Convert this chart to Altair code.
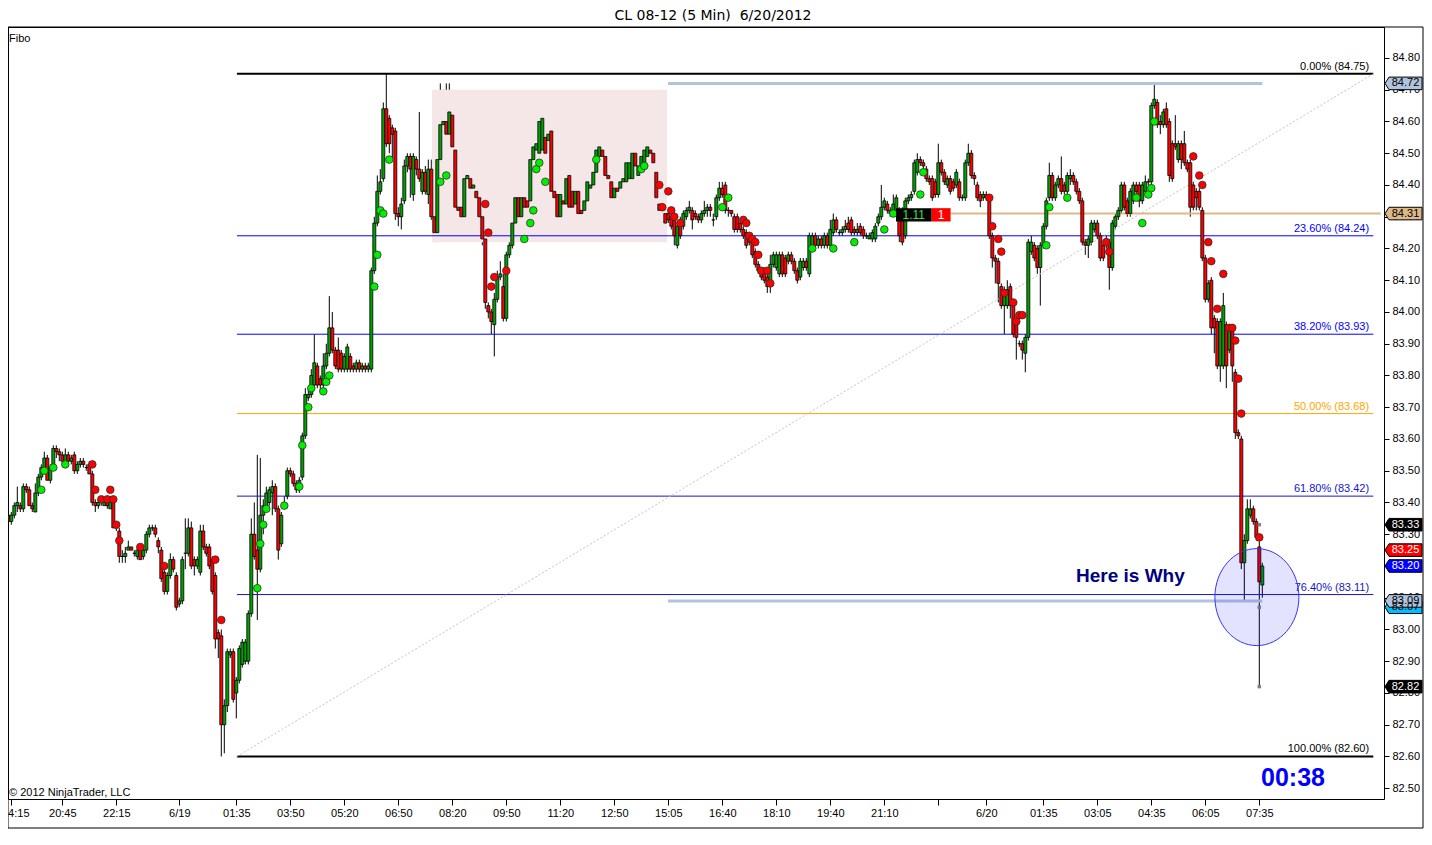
import altair as alt
import pandas as pd

# ---------------- candle data (5-min bars) ----------------
A_OPEN = [83.36, 83.34, 83.36, 83.39, 83.39, 83.38, 83.45, 83.44, 83.39, 83.37,
          83.43, 83.48, 83.51, 83.54, 83.47, 83.51, 83.57, 83.56, 83.55, 83.52,
          83.55, 83.53, 83.55, 83.50, 83.52, 83.53, 83.51, 83.52, 83.49, 83.40,
          83.39, 83.40, 83.39, 83.40, 83.38, 83.40, 83.33, 83.31, 83.23, 83.23,
          83.25, 83.26, 83.24, 83.23, 83.26, 83.23, 83.25, 83.30, 83.32, 83.32,
          83.28, 83.25, 83.18, 83.12, 83.17, 83.22, 83.17, 83.08, 83.09, 83.24,
          83.24, 83.32, 83.22, 83.20, 83.18, 83.31, 83.26, 83.26, 83.22, 83.17,
          82.99, 82.98, 82.70, 82.76, 82.92, 82.93, 82.80, 82.84, 82.89, 82.90,
          82.90, 83.05, 83.30, 83.25, 83.19, 83.36, 83.39, 83.40, 83.43, 83.45,
          83.38, 83.27, 83.40, 83.42, 83.50, 83.49, 83.46, 83.44, 83.48, 83.61,
          83.73, 83.74, 83.77, 83.83, 83.79, 83.77, 83.83]
A_HIGH = [83.38, 83.37, 83.40, 83.45, 83.40, 83.46, 83.46, 83.45, 83.40, 83.46,
          83.49, 83.52, 83.56, 83.55, 83.52, 83.58, 83.58, 83.57, 83.56, 83.57,
          83.56, 83.55, 83.56, 83.53, 83.54, 83.54, 83.52, 83.53, 83.50, 83.41,
          83.41, 83.42, 83.41, 83.41, 83.42, 83.41, 83.34, 83.32, 83.25, 83.26,
          83.28, 83.26, 83.25, 83.26, 83.27, 83.26, 83.31, 83.33, 83.33, 83.33,
          83.29, 83.26, 83.19, 83.18, 83.24, 83.23, 83.18, 83.10, 83.23, 83.35,
          83.35, 83.34, 83.23, 83.23, 83.33, 83.33, 83.27, 83.27, 83.23, 83.18,
          83.00, 83.00, 82.78, 82.94, 82.94, 82.94, 82.85, 82.95, 82.97, 82.97,
          83.06, 83.35, 83.40, 83.55, 83.54, 83.41, 83.45, 83.45, 83.47, 83.46,
          83.39, 83.37, 83.42, 83.51, 83.51, 83.50, 83.47, 83.48, 83.62, 83.76,
          83.76, 83.82, 83.93, 83.84, 83.80, 83.87, 83.90]
A_LOW = [83.33, 83.33, 83.35, 83.37, 83.37, 83.37, 83.43, 83.39, 83.37, 83.37,
         83.42, 83.47, 83.50, 83.47, 83.46, 83.50, 83.54, 83.53, 83.52, 83.51,
         83.52, 83.52, 83.49, 83.49, 83.51, 83.51, 83.50, 83.49, 83.39, 83.37,
         83.38, 83.39, 83.39, 83.38, 83.38, 83.32, 83.31, 83.21, 83.21, 83.21,
         83.25, 83.25, 83.23, 83.22, 83.22, 83.22, 83.24, 83.29, 83.31, 83.29,
         83.24, 83.15, 83.11, 83.11, 83.16, 83.18, 83.06, 83.07, 83.08, 83.19,
         83.23, 83.19, 83.17, 83.19, 83.17, 83.25, 83.23, 83.19, 83.11, 82.94,
         82.91, 82.60, 82.61, 82.74, 82.91, 82.77, 82.72, 82.83, 82.88, 82.89,
         82.89, 83.04, 83.22, 83.03, 83.18, 83.30, 83.38, 83.39, 83.36, 83.37,
         83.22, 83.26, 83.39, 83.41, 83.48, 83.45, 83.43, 83.43, 83.47, 83.60,
         83.72, 83.73, 83.76, 83.76, 83.75, 83.76, 83.82]
A_CLOSE = [83.34, 83.36, 83.39, 83.40, 83.38, 83.45, 83.44, 83.39, 83.38, 83.43,
           83.48, 83.51, 83.54, 83.47, 83.51, 83.57, 83.56, 83.55, 83.53, 83.55,
           83.53, 83.54, 83.50, 83.52, 83.53, 83.52, 83.51, 83.49, 83.40, 83.39,
           83.40, 83.40, 83.40, 83.39, 83.40, 83.32, 83.32, 83.23, 83.23, 83.24,
           83.26, 83.25, 83.24, 83.25, 83.22, 83.25, 83.30, 83.32, 83.32, 83.30,
           83.26, 83.16, 83.12, 83.17, 83.22, 83.19, 83.07, 83.09, 83.22, 83.24,
           83.32, 83.20, 83.20, 83.22, 83.31, 83.26, 83.24, 83.20, 83.12, 82.97,
           82.97, 82.70, 82.76, 82.93, 82.93, 82.78, 82.84, 82.94, 82.96, 82.96,
           83.05, 83.30, 83.23, 83.19, 83.36, 83.39, 83.43, 83.44, 83.45, 83.38,
           83.25, 83.36, 83.40, 83.50, 83.49, 83.46, 83.44, 83.47, 83.61, 83.74,
           83.74, 83.80, 83.84, 83.77, 83.77, 83.83, 83.87]

B_OPEN = [83.87, 83.95, 83.88, 83.88, 83.87, 83.82, 83.82, 83.86, 83.83, 83.82,
          83.84, 83.82, 83.83, 83.82, 83.82, 84.13, 84.28, 84.38, 84.42, 84.64,
          84.61, 84.58, 84.57, 84.31, 84.30, 84.35, 84.46, 84.49, 84.37, 84.48,
          84.45, 84.38, 84.44, 84.37, 84.45, 84.30, 84.25, 84.48, 84.59, 84.60,
          84.56, 84.62, 84.51, 84.33, 84.33, 84.30, 84.42, 84.42, 84.39, 84.38,
          84.36, 84.30, 84.23, 84.02, 84.00, 83.96, 84.04, 84.11, 84.08, 83.98,
          84.18, 84.21, 84.28, 84.36, 84.30, 84.36, 84.35, 84.35, 84.48, 84.51,
          84.50, 84.51, 84.55, 84.54, 84.57, 84.38, 84.37, 84.30, 84.35, 84.34,
          84.43, 84.38, 84.34, 84.38, 84.32, 84.32, 84.35, 84.39, 84.40, 84.44,
          84.49, 84.51, 84.49, 84.43, 84.41, 84.36, 84.39, 84.39, 84.41, 84.41,
          84.42, 84.42, 84.50, 84.43, 84.46, 84.46, 84.49, 84.51, 84.50, 84.44]
B_HIGH = [84.05, 84.00, 83.89, 83.92, 83.88, 83.87, 83.90, 83.87, 83.84, 83.85,
          83.85, 83.84, 83.84, 83.84, 84.14, 84.30, 84.43, 84.45, 84.66, 84.75,
          84.62, 84.59, 84.58, 84.33, 84.36, 84.48, 84.50, 84.50, 84.50, 84.49,
          84.63, 84.45, 84.46, 84.48, 84.48, 84.31, 84.49, 84.72, 84.70, 84.72,
          84.72, 84.63, 84.52, 84.34, 84.34, 84.43, 84.46, 84.43, 84.47, 84.39,
          84.37, 84.31, 84.24, 84.03, 84.01, 84.06, 84.13, 84.16, 84.12, 84.19,
          84.22, 84.30, 84.40, 84.42, 84.40, 84.40, 84.36, 84.50, 84.55, 84.56,
          84.65, 84.63, 84.60, 84.61, 84.58, 84.40, 84.42, 84.42, 84.37, 84.44,
          84.45, 84.39, 84.40, 84.39, 84.33, 84.36, 84.42, 84.42, 84.46, 84.52,
          84.59, 84.53, 84.50, 84.44, 84.42, 84.40, 84.40, 84.42, 84.43, 84.48,
          84.48, 84.51, 84.51, 84.47, 84.50, 84.53, 84.54, 84.52, 84.51, 84.45]
B_LOW = [83.86, 83.87, 83.82, 83.81, 83.81, 83.81, 83.81, 83.81, 83.81, 83.81,
         83.81, 83.81, 83.81, 83.81, 83.81, 84.12, 84.27, 84.37, 84.41, 84.52,
         84.50, 84.48, 84.29, 84.27, 84.26, 84.34, 84.44, 84.36, 84.35, 84.43,
         84.41, 84.37, 84.37, 84.34, 84.29, 84.23, 84.22, 84.47, 84.58, 84.55,
         84.55, 84.50, 84.31, 84.27, 84.25, 84.28, 84.39, 84.37, 84.33, 84.33,
         84.24, 84.21, 84.01, 83.98, 83.93, 83.86, 84.03, 84.10, 83.97, 83.97,
         84.17, 84.20, 84.27, 84.29, 84.29, 84.31, 84.28, 84.34, 84.47, 84.50,
         84.49, 84.50, 84.49, 84.53, 84.36, 84.35, 84.28, 84.28, 84.33, 84.33,
         84.24, 84.31, 84.33, 84.30, 84.30, 84.31, 84.34, 84.38, 84.39, 84.43,
         84.48, 84.48, 84.42, 84.41, 84.35, 84.35, 84.37, 84.38, 84.40, 84.40,
         84.41, 84.41, 84.45, 84.42, 84.45, 84.45, 84.48, 84.49, 84.43, 84.33]
B_CLOSE = [83.95, 83.88, 83.83, 83.82, 83.82, 83.86, 83.89, 83.82, 83.82, 83.84,
           83.82, 83.83, 83.82, 83.83, 84.13, 84.28, 84.38, 84.41, 84.64, 84.53,
           84.53, 84.56, 84.31, 84.30, 84.34, 84.46, 84.49, 84.45, 84.49, 84.45,
           84.42, 84.44, 84.38, 84.45, 84.30, 84.25, 84.48, 84.59, 84.60, 84.56,
           84.63, 84.52, 84.33, 84.32, 84.30, 84.42, 84.43, 84.39, 84.40, 84.36,
           84.30, 84.23, 84.03, 84.00, 83.97, 84.04, 84.11, 84.12, 83.98, 84.18,
           84.21, 84.28, 84.36, 84.30, 84.36, 84.33, 84.33, 84.48, 84.52, 84.53,
           84.60, 84.61, 84.50, 84.56, 84.38, 84.36, 84.30, 84.37, 84.34, 84.42,
           84.33, 84.33, 84.38, 84.31, 84.31, 84.35, 84.41, 84.40, 84.44, 84.51,
           84.52, 84.49, 84.43, 84.42, 84.36, 84.39, 84.38, 84.41, 84.42, 84.47,
           84.47, 84.50, 84.46, 84.46, 84.49, 84.51, 84.52, 84.50, 84.47, 84.36]

C_OPEN = [84.34, 84.34, 84.31, 84.31, 84.30, 84.29, 84.21, 84.29, 84.27, 84.30,
          84.32, 84.32, 84.31, 84.30, 84.29, 84.31, 84.32, 84.33, 84.29, 84.30,
          84.36, 84.39, 84.40, 84.32, 84.32, 84.30, 84.30, 84.28, 84.26, 84.25,
          84.24, 84.23, 84.19, 84.15, 84.13, 84.13, 84.11, 84.08, 84.15, 84.14,
          84.12, 84.18, 84.17, 84.16, 84.18, 84.16, 84.13, 84.11, 84.14, 84.16,
          84.12, 84.21, 84.24, 84.21, 84.23, 84.21, 84.24, 84.21, 84.25, 84.29,
          84.25, 84.25, 84.26, 84.28, 84.29, 84.26, 84.25, 84.27, 84.26, 84.24,
          84.23, 84.23, 84.23, 84.28, 84.30, 84.33, 84.34, 84.31, 84.32, 84.31,
          84.31, 84.31, 84.24, 84.35, 84.36, 84.38, 84.44, 84.48, 84.47, 84.45,
          84.42, 84.42, 84.41, 84.37, 84.47, 84.44, 84.40, 84.42, 84.41, 84.40,
          84.41, 84.36, 84.36, 84.47, 84.50, 84.43, 84.40, 84.37, 84.36, 84.37]
C_HIGH = [84.35, 84.35, 84.32, 84.32, 84.31, 84.30, 84.28, 84.30, 84.32, 84.33,
          84.35, 84.33, 84.32, 84.31, 84.32, 84.35, 84.34, 84.34, 84.31, 84.37,
          84.41, 84.41, 84.41, 84.33, 84.32, 84.31, 84.31, 84.29, 84.27, 84.26,
          84.25, 84.24, 84.20, 84.16, 84.14, 84.14, 84.12, 84.18, 84.19, 84.19,
          84.19, 84.19, 84.18, 84.19, 84.19, 84.17, 84.14, 84.17, 84.17, 84.17,
          84.25, 84.25, 84.25, 84.24, 84.24, 84.25, 84.25, 84.29, 84.31, 84.30,
          84.26, 84.27, 84.29, 84.30, 84.30, 84.27, 84.28, 84.28, 84.27, 84.25,
          84.25, 84.26, 84.28, 84.31, 84.40, 84.36, 84.35, 84.33, 84.37, 84.37,
          84.33, 84.33, 84.36, 84.37, 84.38, 84.48, 84.50, 84.49, 84.48, 84.46,
          84.43, 84.43, 84.42, 84.53, 84.48, 84.45, 84.43, 84.43, 84.42, 84.45,
          84.42, 84.37, 84.48, 84.53, 84.51, 84.44, 84.41, 84.38, 84.38, 84.38]
C_LOW = [84.31, 84.26, 84.27, 84.28, 84.26, 84.21, 84.20, 84.23, 84.26, 84.29,
         84.31, 84.26, 84.29, 84.28, 84.28, 84.30, 84.30, 84.30, 84.27, 84.29,
         84.35, 84.36, 84.31, 84.30, 84.30, 84.25, 84.25, 84.25, 84.23, 84.20,
         84.21, 84.17, 84.14, 84.12, 84.10, 84.09, 84.06, 84.06, 84.14, 84.13,
         84.11, 84.11, 84.11, 84.15, 84.15, 84.12, 84.09, 84.10, 84.13, 84.13,
         84.11, 84.20, 84.20, 84.20, 84.20, 84.20, 84.20, 84.20, 84.24, 84.25,
         84.24, 84.24, 84.25, 84.25, 84.24, 84.24, 84.24, 84.24, 84.23, 84.23,
         84.23, 84.22, 84.22, 84.27, 84.29, 84.32, 84.31, 84.30, 84.31, 84.30,
         84.22, 84.21, 84.23, 84.34, 84.35, 84.37, 84.43, 84.46, 84.45, 84.41,
         84.40, 84.35, 84.36, 84.36, 84.43, 84.40, 84.39, 84.37, 84.38, 84.39,
         84.35, 84.35, 84.35, 84.46, 84.42, 84.40, 84.35, 84.33, 84.35, 84.35]
C_CLOSE = [84.32, 84.32, 84.28, 84.29, 84.27, 84.24, 84.27, 84.24, 84.31, 84.32,
           84.33, 84.29, 84.30, 84.29, 84.31, 84.32, 84.33, 84.32, 84.29, 84.36,
           84.39, 84.37, 84.32, 84.32, 84.31, 84.26, 84.26, 84.26, 84.24, 84.21,
           84.22, 84.18, 84.15, 84.13, 84.11, 84.10, 84.08, 84.15, 84.18, 84.18,
           84.18, 84.12, 84.12, 84.18, 84.16, 84.13, 84.10, 84.16, 84.16, 84.14,
           84.24, 84.24, 84.21, 84.23, 84.21, 84.24, 84.21, 84.26, 84.29, 84.26,
           84.25, 84.26, 84.27, 84.26, 84.25, 84.25, 84.26, 84.25, 84.24, 84.24,
           84.24, 84.25, 84.27, 84.30, 84.33, 84.35, 84.32, 84.32, 84.34, 84.36,
           84.24, 84.22, 84.35, 84.36, 84.37, 84.47, 84.48, 84.47, 84.46, 84.42,
           84.41, 84.36, 84.37, 84.47, 84.44, 84.41, 84.42, 84.38, 84.39, 84.44,
           84.36, 84.36, 84.47, 84.50, 84.43, 84.42, 84.36, 84.35, 84.37, 84.36]

D_OPEN = [84.36, 84.24, 84.17, 84.16, 84.08, 84.02, 84.02, 84.08, 84.02, 83.98,
          83.90, 83.90, 83.87, 83.92, 84.19, 84.21, 84.20, 84.14, 84.21, 84.27,
          84.36, 84.43, 84.36, 84.40, 84.42, 84.40, 84.38, 84.42, 84.43, 84.41,
          84.38, 84.35, 84.22, 84.21, 84.22, 84.26, 84.28, 84.24, 84.21, 84.21,
          84.22, 84.14, 84.27, 84.30, 84.32, 84.40, 84.35, 84.31, 84.35, 84.40,
          84.40, 84.35, 84.38, 84.41, 84.41, 84.65, 84.66, 84.60, 84.59, 84.64,
          84.60, 84.53, 84.53, 84.48, 84.53, 84.53, 84.47, 84.47, 84.40, 84.38,
          84.38, 84.32, 84.17, 84.04, 84.10, 83.98, 83.97, 83.83, 83.83, 83.96,
          83.88, 83.95, 83.81, 83.62, 83.60, 83.21, 83.28, 83.36, 83.38, 83.34,
          83.26, 83.14]
D_HIGH = [84.37, 84.25, 84.18, 84.17, 84.09, 84.08, 84.10, 84.09, 84.03, 83.99,
          83.91, 83.91, 83.93, 84.23, 84.24, 84.22, 84.21, 84.22, 84.28, 84.36,
          84.47, 84.44, 84.41, 84.43, 84.49, 84.41, 84.44, 84.45, 84.44, 84.42,
          84.39, 84.36, 84.23, 84.24, 84.29, 84.29, 84.29, 84.25, 84.22, 84.24,
          84.23, 84.29, 84.31, 84.33, 84.41, 84.41, 84.36, 84.39, 84.41, 84.41,
          84.41, 84.41, 84.43, 84.42, 84.66, 84.72, 84.67, 84.62, 84.64, 84.66,
          84.61, 84.54, 84.62, 84.54, 84.54, 84.57, 84.48, 84.48, 84.41, 84.39,
          84.39, 84.33, 84.18, 84.10, 84.11, 83.99, 83.98, 83.98, 84.06, 83.97,
          83.96, 83.96, 83.82, 83.63, 83.61, 83.30, 83.41, 83.41, 83.39, 83.35,
          83.30, 83.21]
D_LOW = [84.23, 84.14, 84.09, 84.03, 84.01, 83.93, 84.01, 83.98, 83.92, 83.85,
         83.89, 83.85, 83.81, 83.91, 84.18, 84.16, 84.12, 84.02, 84.20, 84.26,
         84.35, 84.35, 84.35, 84.39, 84.37, 84.37, 84.37, 84.40, 84.40, 84.37,
         84.34, 84.21, 84.18, 84.17, 84.21, 84.25, 84.23, 84.16, 84.16, 84.20,
         84.07, 84.13, 84.26, 84.29, 84.31, 84.32, 84.30, 84.30, 84.34, 84.37,
         84.33, 84.34, 84.37, 84.40, 84.40, 84.64, 84.58, 84.56, 84.58, 84.58,
         84.41, 84.41, 84.51, 84.47, 84.45, 84.46, 84.44, 84.30, 84.32, 84.32,
         84.32, 84.16, 84.03, 84.03, 83.93, 83.87, 83.82, 83.78, 83.82, 83.76,
         83.87, 83.78, 83.60, 83.60, 83.19, 83.09, 83.27, 83.35, 83.33, 83.28,
         82.82, 83.10]
D_CLOSE = [84.24, 84.17, 84.16, 84.09, 84.02, 84.07, 84.07, 84.02, 83.93, 83.92,
           83.90, 83.88, 83.92, 84.22, 84.22, 84.17, 84.14, 84.21, 84.27, 84.35,
           84.43, 84.36, 84.40, 84.42, 84.38, 84.38, 84.43, 84.43, 84.41, 84.38,
           84.35, 84.22, 84.21, 84.23, 84.28, 84.28, 84.24, 84.17, 84.17, 84.23,
           84.14, 84.28, 84.30, 84.32, 84.40, 84.33, 84.31, 84.38, 84.40, 84.38,
           84.35, 84.40, 84.41, 84.41, 84.65, 84.67, 84.59, 84.59, 84.63, 84.59,
           84.43, 84.42, 84.52, 84.53, 84.48, 84.47, 84.45, 84.33, 84.33, 84.36,
           84.33, 84.17, 84.04, 84.09, 83.95, 83.95, 83.83, 83.97, 84.02, 83.83,
           83.95, 83.83, 83.62, 83.61, 83.21, 83.28, 83.38, 83.38, 83.34, 83.29,
           83.15, 83.20]

# sentiment dots (bar index, price)
UP_I = [11, 12, 15, 19, 83, 84, 85, 86, 92, 97, 98, 100, 101, 105, 106, 107, 122, 123, 124, 125,
        127, 144, 146, 172, 174, 175, 176, 177, 179, 196, 211, 212, 238, 240, 268, 275, 282, 292,
        295, 304, 305, 346, 347, 353, 376, 378, 380, 381, 382]
UP_P = [83.44, 83.50, 83.51, 83.52, 83.13, 83.27, 83.33, 83.38, 83.39, 83.45, 83.58, 83.70, 83.76,
        83.75, 83.78, 83.80, 84.08, 84.18, 84.32, 84.31, 84.48, 84.41, 84.43, 84.23, 84.28, 84.32,
        84.45, 84.47, 84.41, 84.48, 84.45, 84.46, 84.33, 84.36, 84.20, 84.20, 84.22, 84.26, 84.31,
        84.37, 84.44, 84.21, 84.33, 84.36, 84.36, 84.28, 84.37, 84.39, 84.60]
DN_I = [28, 29, 31, 33, 34, 35, 36, 37, 44, 52, 69, 71, 159, 160, 161, 162, 166, 217, 218, 220,
        221, 222, 224, 245, 246, 247, 248, 249, 250, 251, 253, 254, 327, 328, 330, 331, 332, 335,
        336, 337, 338, 366, 367, 395, 397, 398, 400, 401, 403, 405, 407, 408, 409, 410, 411, 417]
DN_P = [83.52, 83.44, 83.41, 83.41, 83.44, 83.41, 83.33, 83.28, 83.26, 83.20, 83.22, 83.03, 84.34,
        84.25, 84.08, 84.11, 84.13, 84.40, 84.33, 84.38, 84.32, 84.30, 84.28, 84.29, 84.28, 84.24,
        84.23, 84.22, 84.18, 84.13, 84.13, 84.09, 84.36, 84.27, 84.23, 84.19, 84.06, 84.03, 83.97,
        83.99, 83.99, 84.22, 84.19, 84.49, 84.43, 84.40, 84.22, 84.16, 84.01, 84.12, 83.95, 83.95,
        83.91, 83.79, 83.68, 83.29]

# axes
TICK_POS = [1, 18, 36, 57, 76, 94, 112, 130, 148, 166, 184, 202, 220, 238, 256, 274, 292, 310,
            326, 345, 363, 381, 399, 417]
TICK_LABELS = ["4:15", "20:45", "22:15", "6/19", "01:35", "03:50", "05:20", "06:50", "08:20",
               "09:50", "11:20", "12:50", "15:05", "16:40", "18:10", "19:40", "21:10", "",
               "6/20", "01:35", "03:05", "04:35", "06:05", "07:35"]
Y_TICKS = [82.50, 82.60, 82.70, 82.80, 82.90, 83.00, 83.10, 83.20, 83.30, 83.40, 83.50, 83.60,
           83.70, 83.80, 83.90, 84.00, 84.10, 84.20, 84.30, 84.40, 84.50, 84.60, 84.70, 84.80]

# Fibonacci retracement
FIB_PCT = ["0.00%", "23.60%", "38.20%", "50.00%", "61.80%", "76.40%", "100.00%"]
FIB_PRICE = [84.75, 84.24, 83.93, 83.68, 83.42, 83.11, 82.60]
FIB_COLOR = ["#000000", "#0000FF", "#0000FF", "#FFA500", "#1515C8", "#1515C8", "#000000"]

# price markers on the right axis
FLAG_PRICE = [84.72, 84.31, 83.33, 83.25, 83.20, 83.07, 83.09, 82.82]
FLAG_FILL = ["#B0C4DE", "#DEB887", "#000000", "#FF0000", "#0000FF", "#00BFFF", "#B0C4DE", "#000000"]
FLAG_INK = ["#000000", "#000000", "#FFFFFF", "#FFFFFF", "#FFFFFF", "#000000", "#000000", "#FFFFFF"]

GREEN = "#00A000"
RED = "#FF0000"

# ---------------- build ----------------
OPEN = A_OPEN + B_OPEN + C_OPEN + D_OPEN
HIGH = A_HIGH + B_HIGH + C_HIGH + D_HIGH
LOW = A_LOW + B_LOW + C_LOW + D_LOW
CLOSE = A_CLOSE + B_CLOSE + C_CLOSE + D_CLOSE
n = min(len(OPEN), len(HIGH), len(LOW), len(CLOSE))
bars = pd.DataFrame({"i": list(range(n)), "open": OPEN[:n], "high": HIGH[:n],
                     "low": LOW[:n], "close": CLOSE[:n]})
bars["high"] = bars[["open", "high", "close"]].max(axis=1)
bars["low"] = bars[["open", "low", "close"]].min(axis=1)

W, H = 1376, 772
PAD = {"left": 0, "top": 19, "right": 40, "bottom": 30}
XS = alt.Scale(domain=[-0.1, -0.1 + W / 3.0], nice=False, zero=False, padding=0)
YS = alt.Scale(domain=[82.4661, 84.8976], nice=False, zero=False, padding=0)

label_expr = ("[" + ",".join("'" + t + "'" for t in TICK_LABELS) + "][indexof(["
              + ",".join(str(v) for v in TICK_POS) + "], datum.value)]")
X_AXIS = alt.Axis(values=TICK_POS, labelExpr=label_expr, tickSize=6, tickColor="black",
                  domain=False, grid=False, labelFont="Liberation Sans", labelFontSize=11,
                  labelColor="black", labelPadding=2, title=None, labelOverlap=False,
                  labelFlush=False,
                  labelOffset={"condition": {"test": "datum.value < 5", "value": 7}, "value": 0})
Y_AXIS = alt.Axis(orient="right", values=Y_TICKS, format=".2f", tickSize=5, tickColor="black",
                  domain=False, grid=False, labelFont="Liberation Sans", labelFontSize=11,
                  labelColor="black", labelPadding=3, title=None, labelOverlap=False,
                  labelFlush=False)


def xq(f):
    return alt.X(f + ":Q", scale=XS, axis=X_AXIS)


def yq(f):
    return alt.Y(f + ":Q", scale=YS, axis=Y_AXIS)


one = pd.DataFrame({"k": [0]})

# candles (first layer, carries the axes)
wick = alt.Chart(bars).mark_rule(color="black", strokeWidth=1).encode(
    x=xq("i"), y=yq("low"), y2="high")
body = alt.Chart(bars).mark_bar(size=3, stroke="black", strokeWidth=0.8, orient="vertical").encode(
    x=xq("i"), y=yq("open"), y2="close",
    color=alt.condition("datum.close >= datum.open", alt.value(GREEN), alt.value(RED)))

# pink zone
zone = pd.DataFrame({"x0": [141.2], "x1": [219.6], "p0": [84.22], "p1": [84.70]})
pink = alt.Chart(zone).mark_rect(color="#F5E6E8").encode(
    x=xq("x0"), x2="x1", y=yq("p0"), y2="p1")

# fib lines
fib = pd.DataFrame({"pct": FIB_PCT, "price": FIB_PRICE})
fib["x0"] = 76.2
fib["x1"] = 455.0
fib["xl"] = 453.6
fib["label"] = fib["pct"] + " (" + fib["price"].map(lambda v: f"{v:.2f}") + ")"
fib_color = alt.Color("pct:N", scale=alt.Scale(domain=FIB_PCT, range=FIB_COLOR), legend=None)
fib_thin = alt.Chart(fib).transform_filter(
    "datum.pct != '0.00%' && datum.pct != '100.00%'").mark_rule(strokeWidth=1).encode(
    x=xq("x0"), x2="x1", y=yq("price"), color=fib_color)
fib_thick = alt.Chart(fib).transform_filter(
    "datum.pct == '0.00%' || datum.pct == '100.00%'").mark_rule(strokeWidth=2).encode(
    x=xq("x0"), x2="x1", y=yq("price"), color=fib_color)
fib_text = alt.Chart(fib).mark_text(align="right", baseline="alphabetic", dy=-4,
                                    font="Liberation Sans", fontSize=11).encode(
    x=xq("xl"), y=yq("price"), text="label:N", color=fib_color)

diag_df = pd.DataFrame({"x0": [76.2], "x1": [455.0], "p0": [82.60], "p1": [84.75]})
diag = alt.Chart(diag_df).mark_rule(color="#C4C4C4", strokeDash=[2, 2], strokeWidth=1).encode(
    x=xq("x0"), x2="x1", y=yq("p0"), y2="p1")

steel_df = pd.DataFrame({"price": [84.72, 83.09], "x0": [219.9, 219.9], "x1": [418.0, 418.0]})
steel = alt.Chart(steel_df).mark_rule(color="#B0C4DE", strokeWidth=3).encode(
    x=xq("x0"), x2="x1", y=yq("price"))

tan_df = pd.DataFrame({"price": [84.31], "x0": [314.1], "x1": [457.5]})
tan = alt.Chart(tan_df).mark_rule(color="#DEB887", strokeWidth=2).encode(
    x=xq("x0"), x2="x1", y=yq("price"))

dots_df = pd.DataFrame({"i": UP_I + DN_I, "price": UP_P + DN_P,
                        "kind": ["up"] * len(UP_I) + ["down"] * len(DN_I)})
dots = alt.Chart(dots_df).mark_point(shape="circle", filled=True, size=58, stroke="#303030",
                                     strokeWidth=0.8, opacity=1).encode(
    x=xq("i"), y=yq("price"),
    color=alt.Color("kind:N", scale=alt.Scale(domain=["up", "down"], range=["#00F000", "#FF0000"]),
                    legend=None))

gray_df = pd.DataFrame({"i": [417, 417, 417], "price": [83.33, 83.07, 82.82]})
gray = alt.Chart(gray_df).mark_square(size=12, color="#808080", opacity=1).encode(
    x=xq("i"), y=yq("price"))

# ellipse
ELLIPSE = ("M0.866,0C0.866,0.5523,0.4783,1,0,1C-0.4783,1,-0.866,0.5523,-0.866,0"
           "C-0.866,-0.5523,-0.4783,-1,0,-1C0.4783,-1,0.866,-0.5523,0.866,0Z")
ell_df = pd.DataFrame({"i": [416.2], "price": [83.102]})
ellipse = alt.Chart(ell_df).mark_point(shape=ELLIPSE, size=9409, filled=True, fill="#0000FF",
                                       fillOpacity=0.11, stroke="#3636F0", strokeWidth=1,
                                       strokeOpacity=1, opacity=1).encode(
    x=xq("i"), y=yq("price"))

why_df = pd.DataFrame({"i": [355.9], "price": [83.168], "t": ["Here is Why"]})
why = alt.Chart(why_df).mark_text(align="left", baseline="middle", font="Liberation Sans",
                                  fontSize=19, fontWeight="bold", color="#000080").encode(
    x=xq("i"), y=yq("price"), text="t:N")

timer = alt.Chart(pd.DataFrame({"t": ["00:38"]})).mark_text(
    align="center", baseline="middle", font="Liberation Sans", fontSize=25, fontWeight="bold",
    color="#0000FF").encode(x=alt.value(1285), y=alt.value(751), text="t:N")

fibo = alt.Chart(pd.DataFrame({"t": ["Fibo"]})).mark_text(
    align="left", baseline="middle", font="Liberation Sans", fontSize=11, color="black").encode(
    x=alt.value(1), y=alt.value(12), text="t:N")

copy = alt.Chart(pd.DataFrame({"t": ["\u00a9 2012 NinjaTrader, LLC"]})).mark_text(
    align="left", baseline="middle", font="Liberation Sans", fontSize=11, color="black").encode(
    x=alt.value(1), y=alt.value(766), text="t:N")

# small position box "1.11 | 1"
box_df = pd.DataFrame({"x0": [295.9, 307.8], "x1": [307.8, 314.1], "p0": [84.285, 84.285],
                       "p1": [84.327, 84.327], "k": ["a", "b"]})
box = alt.Chart(box_df).mark_rect().encode(
    x=xq("x0"), x2="x1", y=yq("p0"), y2="p1",
    color=alt.Color("k:N", scale=alt.Scale(domain=["a", "b"], range=["#000000", "#FF0000"]),
                    legend=None))
boxt_df = pd.DataFrame({"i": [301.8, 310.9], "price": [84.306, 84.306], "t": ["1.11", "1"],
                        "k": ["a", "b"]})
boxt = alt.Chart(boxt_df).mark_text(align="center", baseline="middle", font="Liberation Sans",
                                    fontSize=12).encode(
    x=xq("i"), y=yq("price"), text="t:N",
    color=alt.Color("k:N", scale=alt.Scale(domain=["a", "b"], range=["#33E033", "#FFFFFF"]),
                    legend=None))

# right-axis flags
FLAG = "M-1,0L-0.784,-0.34L1,-0.34L1,0.34L-0.784,0.34Z"
keys = ["f%d" % k for k in range(len(FLAG_PRICE))]
flag_df = pd.DataFrame({"price": FLAG_PRICE, "k": keys})
flag_df["t"] = flag_df["price"].map(lambda v: f"{v:.2f}")
flags = alt.Chart(flag_df).mark_point(shape=FLAG, size=1369, filled=True, stroke="black",
                                      strokeWidth=1, opacity=1).encode(
    x=alt.value(1395.5), y=yq("price"),
    color=alt.Color("k:N", scale=alt.Scale(domain=keys, range=FLAG_FILL), legend=None),
    order=alt.Order("k:N"))
flag_txt = alt.Chart(flag_df).mark_text(align="center", baseline="middle",
                                        font="Liberation Sans", fontSize=11).encode(
    x=alt.value(1397.5), y=yq("price"), text="t:N",
    color=alt.Color("k:N", scale=alt.Scale(domain=keys, range=FLAG_INK), legend=None))

title = alt.Chart(pd.DataFrame({"t": ["CL 08-12 (5 Min)\u00a0 6/20/2012"]})).mark_text(
    align="center", baseline="middle", font="DejaVu Sans", fontSize=14, color="black").encode(
    x=alt.value(705), y=alt.value(-11), text="t:N")

frame = alt.Chart(one).mark_rect(fillOpacity=0, stroke="black", strokeWidth=1).encode(
    x=alt.value(0), x2=alt.value(W + PAD["right"] - 1),
    y=alt.value(0), y2=alt.value(H + PAD["bottom"] - 1))

chart = alt.layer(
    wick, pink, fib_thin, fib_thick, diag, steel, tan, body, dots, gray, fib_text, ellipse,
    why, timer, fibo, copy, box, boxt, frame, flags, flag_txt, title
).resolve_scale(color="independent").properties(
    width=W, height=H,
    padding=PAD,
    autosize=alt.AutoSizeParams(type="none"),
    background="white",
).configure_view(stroke="black", strokeWidth=1)

chart.save("out.html", embed_options={"renderer": "svg", "actions": False})
